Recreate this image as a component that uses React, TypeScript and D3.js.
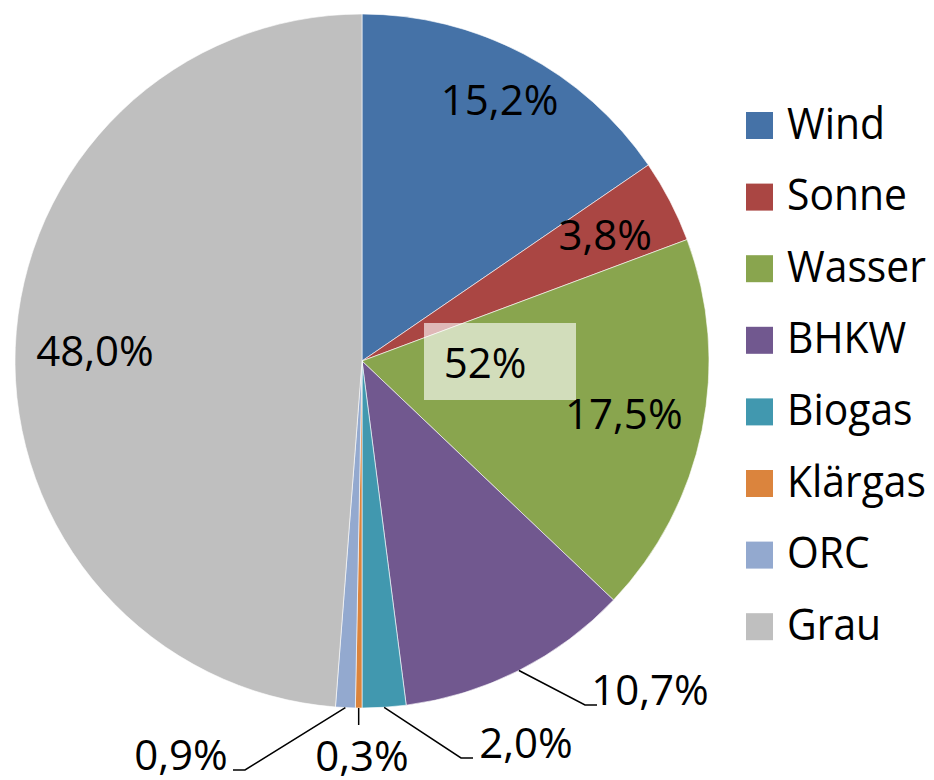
import React from "react";
import * as d3 from "d3";

const categories = ["Wind", "Sonne", "Wasser", "BHKW", "Biogas", "Klärgas", "ORC", "Grau"];
const values = [15.2, 3.8, 17.5, 10.7, 2.0, 0.3, 0.9, 48.0];
const labels = ["15,2%", "3,8%", "17,5%", "10,7%", "2,0%", "0,3%", "0,9%", "48,0%"];
const colors = ["#4572A7", "#AA4643", "#89A54E", "#71588F", "#4198AF", "#DB843D", "#93A9CF", "#BFBFBF"];
const totalLabel = "52%";

const W = 934;
const H = 780;
const cx = 362;
const cy = 361;
const R = 347;
const FONT = "'Open Sans', 'Noto Sans', sans-serif";

// label layout: inside (radius fraction) or outside (text anchor point)
const labelLayout: Array<{ inside: boolean; rf?: number; tx?: number; ty?: number; side?: number }> = [
  { inside: true, rf: 0.85 },
  { inside: true, rf: 0.79 },
  { inside: true, rf: 0.77 },
  { inside: false, tx: 650, ty: 705, side: -1 },
  { inside: false, tx: 526, ty: 758, side: -1 },
  { inside: false, tx: 362, ty: 771, side: 0 },
  { inside: false, tx: 181, ty: 770, side: 1 },
  { inside: true, rf: 0.77 },
];

export default function App() {
  const pie = d3.pie<number>().sort(null).value((d) => d);
  const arcs = pie(values);
  const arcGen = d3.arc<d3.PieArcDatum<number>>().innerRadius(0).outerRadius(R);

  return (
    <svg width={W} height={H} style={{ position: "absolute", left: 0, top: 0, background: "#fff" }}>
      <g transform={`translate(${cx},${cy})`}>
        {arcs.map((a, i) => (
          <path key={i} d={arcGen(a) || ""} fill={colors[i]} stroke="#fff" strokeWidth={0.6} />
        ))}
      </g>
      {arcs.map((a, i) => {
        const mid = (a.startAngle + a.endAngle) / 2;
        const L = labelLayout[i];
        if (L.inside) {
          const r = R * (L.rf || 0.8);
          const x = cx + r * Math.sin(mid);
          const y = cy - r * Math.cos(mid);
          return (
            <text key={i} x={x} y={y + 15} textAnchor="middle" fontFamily={FONT} fontSize={42} fill="#000">
              {labels[i]}
            </text>
          );
        }
        const sx = cx + R * Math.sin(mid);
        const sy = cy - R * Math.cos(mid);
        const tx = L.tx as number;
        const ty = L.ty as number;
        let pts: [number, number][];
        if (L.side === 0) {
          pts = [[sx, sy], [sx, sy + 17]];
        } else if (L.side === -1) {
          const hx = tx - 53;
          pts = [[sx, sy], [hx - 12, ty], [hx, ty]];
        } else {
          const hx = tx + 52;
          pts = [[sx, sy], [hx + 12, ty], [hx, ty]];
        }
        const line = d3.line()(pts) || "";
        return (
          <g key={i}>
            <path d={line} fill="none" stroke="#000" strokeWidth={1.5} />
            <text x={tx} y={ty} textAnchor="middle" fontFamily={FONT} fontSize={42} fill="#000">
              {labels[i]}
            </text>
          </g>
        );
      })}
      <rect x={424} y={323} width={152} height={77} fill="#fff" fillOpacity={0.62} />
      <text x={485} y={378} textAnchor="middle" fontFamily={FONT} fontSize={42} fill="#000">
        {totalLabel}
      </text>
      {categories.map((c, i) => {
        const y0 = 112 + i * 71.6;
        return (
          <g key={c}>
            <rect x={746} y={y0} width={27} height={27} fill={colors[i]} />
            <text
              transform={`translate(787,${y0 + 26.5}) scale(0.95,1)`}
              fontFamily={FONT}
              fontSize={43}
              fill="#000"
            >
              {c}
            </text>
          </g>
        );
      })}
    </svg>
  );
}
